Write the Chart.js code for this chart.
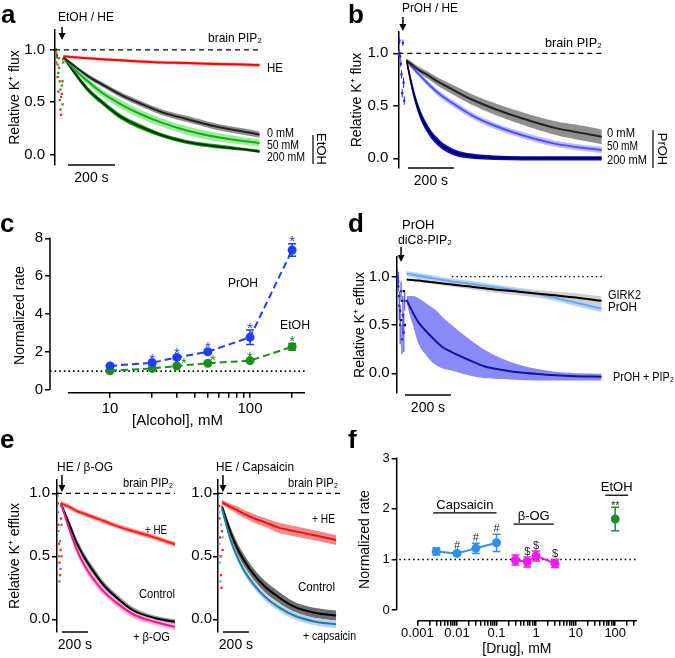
<!DOCTYPE html>
<html>
<head>
<meta charset="utf-8">
<script src="https://cdn.jsdelivr.net/npm/chart.js@4.4.1/dist/chart.umd.min.js"></script>
<style>
  html, body { margin: 0; padding: 0; background: #fff; }
  #fig { position: relative; width: 675px; height: 658px; overflow: hidden; background: #fff; }
  #fig canvas { position: absolute; }
</style>
</head>
<body>
<div id="fig">
  <canvas id="chartA" style="left:0;top:0" width="335" height="200"></canvas>
  <canvas id="chartB" style="left:335px;top:0" width="340" height="200"></canvas>
  <canvas id="chartC" style="left:0;top:200px" width="335" height="230"></canvas>
  <canvas id="chartD" style="left:335px;top:200px" width="340" height="230"></canvas>
  <canvas id="chartE1" style="left:0;top:430px" width="180" height="228"></canvas>
  <canvas id="chartE2" style="left:180px;top:430px" width="180" height="228"></canvas>
  <canvas id="chartF" style="left:335px;top:430px" width="340" height="228"></canvas>
</div>
<script>
// ---------- data ----------
const FLUX_TICKS = [0, 0.5, 1.0];

// panel a: EtOH / HE, brain PIP2 (time in s, relative flux)
const A_T = [36, 80, 140, 200, 280, 360, 460, 560, 680, 800, 870];
const A_HE = [0.94, 0.93, 0.92, 0.91, 0.90, 0.89, 0.88, 0.875, 0.865, 0.86, 0.855];
const A_HE_SEM = [0.012, 0.013, 0.014, 0.015, 0.015, 0.016, 0.016, 0.017, 0.017, 0.018, 0.018];
const A_0MM = [0.93, 0.85, 0.75, 0.67, 0.57, 0.49, 0.40, 0.34, 0.27, 0.22, 0.19];
const A_0MM_SEM = [0.01, 0.015, 0.02, 0.022, 0.025, 0.027, 0.028, 0.03, 0.03, 0.03, 0.03];
const A_50MM = [0.93, 0.82, 0.70, 0.59, 0.48, 0.39, 0.30, 0.23, 0.17, 0.13, 0.11];
const A_50MM_SEM = [0.01, 0.02, 0.03, 0.035, 0.04, 0.04, 0.04, 0.04, 0.04, 0.035, 0.035];
const A_200MM = [0.93, 0.79, 0.62, 0.50, 0.36, 0.27, 0.18, 0.12, 0.08, 0.05, 0.03];
const A_200MM_SEM = [0.01, 0.02, 0.025, 0.025, 0.025, 0.025, 0.02, 0.02, 0.02, 0.015, 0.015];
const A_PRE_T = [2, 5, 8, 11, 14, 17, 20, 23, 26, 29, 32, 35];
const A_PRE_GREEN = [1.01, 0.97, 0.93, 0.86, 0.78, 0.92, 0.70, 0.62, 0.55, 0.66, 0.48, 0.88];
const A_PRE_RED = [0.99, 0.88, 0.95, 0.74, 0.60, 0.83, 0.52, 0.43, 0.38, 0.58, 0.70, 0.91];
const A_DRUG_T = 30;

// panel b: PrOH / HE
const B_T = [36, 60, 90, 130, 180, 240, 320, 420, 540, 680, 800, 885];
const B_0MM = [0.93, 0.89, 0.84, 0.79, 0.72, 0.65, 0.56, 0.47, 0.38, 0.29, 0.24, 0.205];
const B_0MM_SEM = [0.02, 0.025, 0.03, 0.035, 0.04, 0.045, 0.05, 0.055, 0.06, 0.065, 0.07, 0.07];
const B_50MM = [0.93, 0.87, 0.80, 0.71, 0.61, 0.52, 0.41, 0.31, 0.22, 0.14, 0.10, 0.08];
const B_50MM_SEM = [0.02, 0.02, 0.025, 0.025, 0.03, 0.03, 0.03, 0.03, 0.03, 0.03, 0.03, 0.03];
const B_200MM = [0.93, 0.68, 0.45, 0.27, 0.14, 0.06, 0.02, 0.006, 0.0, 0.0, 0.0, 0.0];
const B_200MM_SEM = [0.04, 0.045, 0.045, 0.04, 0.035, 0.03, 0.025, 0.022, 0.02, 0.02, 0.02, 0.02];
const B_PRE_T = [2, 5, 8, 11, 14, 17, 20, 23, 26];
const B_PRE = [1.0, 1.12, 0.97, 0.90, 0.80, 0.62, 1.10, 0.72, 0.55];
const B_PRE_ERR = [0.03, 0.03, 0.04, 0.03, 0.04, 0.04, 0.03, 0.05, 0.04];
const B_DRUG_T = 20;

// panel c: rate vs alcohol concentration (mM)
const ALC_CONC = [10, 20, 30, 50, 100, 200];
const PROH_RATE = [1.27, 1.44, 1.72, 2.02, 2.78, 7.38];
const PROH_ERR = [0.05, 0.08, 0.08, 0.10, 0.38, 0.33];
const PROH_MARK = ['', '*', '*', '*', '*', '*'];
const ETOH_RATE = [1.02, 1.14, 1.27, 1.41, 1.55, 2.28];
const ETOH_ERR = [0.04, 0.05, 0.05, 0.06, 0.08, 0.18];
const ETOH_MARK = ['', '', '*', '*', '*', '*'];
const C_Y_TICKS = [0, 2, 4, 6, 8];
const C_X_TICKS = [10, 20, 30, 40, 50, 60, 70, 80, 90, 100, 200];
const C_X_LABELS = [10, 100];

// panel d: PrOH with diC8-PIP2
const D_T = [43, 70, 94, 130, 167, 200, 239, 312, 384, 460, 529, 674, 780, 891];
const D_GIRK2 = [0.97, 0.965, 0.96, 0.95, 0.94, 0.93, 0.92, 0.90, 0.88, 0.86, 0.845, 0.81, 0.785, 0.75];
const D_GIRK2_SEM = [0.01, 0.012, 0.014, 0.016, 0.018, 0.02, 0.022, 0.026, 0.03, 0.033, 0.036, 0.04, 0.043, 0.045];
const D_PROH = [1.03, 1.02, 1.01, 0.995, 0.98, 0.965, 0.95, 0.93, 0.905, 0.88, 0.855, 0.79, 0.73, 0.67];
const D_PROH_SEM = [0.03, 0.03, 0.03, 0.03, 0.03, 0.03, 0.03, 0.03, 0.03, 0.03, 0.03, 0.035, 0.035, 0.035];
const D_PIP2 = [0.76, 0.63, 0.53, 0.43, 0.34, 0.27, 0.22, 0.14, 0.07, 0.035, 0.01, -0.017, -0.03, -0.035];
const D_PIP2_HI = [0.80, 0.80, 0.78, 0.72, 0.66, 0.58, 0.50, 0.36, 0.24, 0.15, 0.09, 0.02, 0.0, -0.005];
const D_PIP2_LO = [0.72, 0.50, 0.31, 0.18, 0.09, 0.05, 0.03, -0.02, -0.05, -0.06, -0.07, -0.075, -0.075, -0.075];
const D_PRE_T = [3, 7, 11, 15, 19, 23, 27, 31, 35];
const D_PRE_BLUE = [1.0, 0.95, 0.70, 0.50, 0.85, 0.35, 0.60, 0.42, 0.75];
const D_PRE_BLUE_ERR = [0.08, 0.10, 0.15, 0.20, 0.10, 0.15, 0.20, 0.20, 0.10];
const D_PRE_BLACK = [0.98, 0.90, 0.80, 0.65, 0.55, 0.75, 0.60, 0.85, 0.50];
const D_DRUG_T = 19;

// panel e: HE with beta-OG (left) and capsaicin (right)
const E_T = [30, 100, 150, 205, 280, 360, 460, 585, 750, 908];
const E1_HE = [0.92, 0.89, 0.86, 0.84, 0.81, 0.78, 0.74, 0.70, 0.65, 0.595];
const E1_HE_SEM = [0.02, 0.02, 0.02, 0.02, 0.02, 0.02, 0.02, 0.02, 0.02, 0.02];
const E1_CTRL = [0.92, 0.74, 0.61, 0.50, 0.38, 0.27, 0.17, 0.07, 0.01, -0.02];
const E1_CTRL_SEM = [0.01, 0.03, 0.035, 0.035, 0.035, 0.03, 0.03, 0.025, 0.02, 0.02];
const E1_BOG = [0.92, 0.70, 0.56, 0.44, 0.32, 0.22, 0.13, 0.04, -0.02, -0.06];
const E1_BOG_SEM = [0.01, 0.03, 0.035, 0.035, 0.035, 0.03, 0.03, 0.03, 0.025, 0.025];
const E2_HE = [0.93, 0.89, 0.865, 0.835, 0.80, 0.77, 0.73, 0.70, 0.665, 0.63];
const E2_HE_SEM = [0.02, 0.025, 0.03, 0.03, 0.035, 0.035, 0.04, 0.04, 0.04, 0.04];
const E2_CTRL = [0.90, 0.68, 0.56, 0.46, 0.35, 0.26, 0.18, 0.10, 0.05, 0.03];
const E2_CTRL_SEM = [0.02, 0.04, 0.045, 0.045, 0.045, 0.045, 0.045, 0.04, 0.04, 0.04];
const E2_CAPS = [0.88, 0.62, 0.49, 0.38, 0.27, 0.18, 0.10, 0.03, -0.02, -0.04];
const E2_CAPS_SEM = [0.02, 0.03, 0.03, 0.03, 0.03, 0.03, 0.03, 0.03, 0.03, 0.03];
const E_PRE_T = [3, 7, 11, 15, 19, 23, 27, 31, 35];
const E1_PRE_RED = [1.0, 0.92, 0.75, 0.60, 0.45, 0.35, 0.55, 0.80, 0.50];
const E1_PRE_GRAY = [0.98, 0.85, 0.70, 0.50, 0.30, 0.62, 0.40, 0.90, 0.75];
const E2_PRE_RED = [1.0, 0.90, 0.80, 0.65, 0.50, 0.35, 0.25, 0.70, 0.55];
const E2_PRE_BLUE = [0.97, 0.85, 0.60, 0.45, 0.30, 0.75, 0.50, 0.90, 0.65];
const E_DRUG_T = 38;

// panel f: rate vs drug concentration (mM)
const CAPS_CONC = [0.003, 0.01, 0.03, 0.1];
const CAPS_RATE = [1.16, 1.12, 1.22, 1.33];
const CAPS_ERR = [0.07, 0.04, 0.10, 0.17];
const CAPS_MARK = ['', '#', '#', '#'];
const BOG_CONC = [0.3, 0.6, 1, 3];
const BOG_RATE = [0.99, 0.95, 1.07, 0.92];
const BOG_ERR = [0.10, 0.10, 0.10, 0.08];
const BOG_MARK = ['', '$', '$', '$'];
const ETOH_F_CONC = [100];
const ETOH_F_RATE = [1.80];
const ETOH_F_ERR = [0.23];
const ETOH_F_MARK = ['**'];
const F_Y_TICKS = [0, 1, 2, 3];
const F_X_MAJOR = [0.001, 0.01, 0.1, 1, 10, 100];
const F_X_LABELS = ['0.001', '0.01', '0.1', '1', '10', '100'];

// ---------- helpers ----------
const FONT = "'Liberation Sans', Arial, Helvetica, sans-serif";
function fnt(size, bold) { return (bold ? 'bold ' : '') + size + 'px ' + FONT; }
function pts(xs, ys) { return xs.map((x, i) => ({ x: x, y: ys[i] })); }

function text(ctx, s, x, y, o) {
    o = o || {};
    ctx.save();
    ctx.font = o.font || fnt(13);
    ctx.fillStyle = o.color || '#000';
    ctx.textAlign = o.align || 'left';
    ctx.textBaseline = o.base || 'middle';
    ctx.translate(x, y);
    if (o.rot) ctx.rotate(o.rot);
    if (o.w) ctx.fillText(s, 0, 0, o.w);
    else ctx.fillText(s, 0, 0);
    ctx.restore();
}
function seg(ctx, x1, y1, x2, y2, w, color) {
    ctx.save();
    ctx.strokeStyle = color || '#000';
    ctx.lineWidth = w || 1.5;
    ctx.beginPath(); ctx.moveTo(x1, y1); ctx.lineTo(x2, y2); ctx.stroke();
    ctx.restore();
}
function arrow(ctx, x, y1, y2) {
    seg(ctx, x, y1, x, y2 - 5, 1.5);
    ctx.save();
    ctx.fillStyle = '#000';
    ctx.beginPath(); ctx.moveTo(x - 3.5, y2 - 7); ctx.lineTo(x + 3.5, y2 - 7); ctx.lineTo(x, y2); ctx.closePath(); ctx.fill();
    ctx.restore();
}
function letter(ctx, s, x, y) { text(ctx, s, x, y, { font: fnt(26, true), base: 'alphabetic' }); }
function scaleBar(ctx, xs, t0, len, yPix) {
    const x0 = xs.getPixelForValue(t0), x1 = xs.getPixelForValue(t0 + len);
    seg(ctx, x0, yPix, x1, yPix, 1.5);
    text(ctx, len + ' s', (x0 + x1) / 2, yPix + 13, { font: fnt(14), align: 'center' });
}

const CLEAR = 'rgba(0,0,0,0)';
function band(t, lo, hi, color, order) {
    return [
        { data: pts(t, lo), borderColor: CLEAR, borderWidth: 0, fill: false, order: order },
        { data: pts(t, hi), borderColor: CLEAR, borderWidth: 0, fill: '-1', backgroundColor: color, order: order }
    ];
}
function semBand(t, mean, sem, color, order) {
    return band(t, mean.map((m, i) => m - sem[i]), mean.map((m, i) => m + sem[i]), color, order);
}
function trace(t, mean, color, width, order) {
    return { data: pts(t, mean), borderColor: color, borderWidth: width, fill: false, order: order };
}
function dots(t, v, color, errs) {
    return {
        data: pts(t, v), showLine: false, pointRadius: 1.6, pointStyle: 'rect',
        pointBackgroundColor: color, pointBorderWidth: 0, borderColor: color,
        errs: errs, errWidth: 1, order: 2
    };
}
function refLine(x0, x1, dash) {
    return { data: [{ x: x0, y: 1 }, { x: x1, y: 1 }], borderColor: '#000', borderWidth: 1.3, borderDash: dash, fill: false, order: 0 };
}

// error bars for datasets carrying an errs array
const errorBars = {
    id: 'errorBars',
    afterDatasetsDraw(chart) {
        const ctx = chart.ctx, y = chart.scales.y;
        chart.data.datasets.forEach((ds, i) => {
            if (!ds.errs) return;
            const meta = chart.getDatasetMeta(i);
            ctx.save();
            ctx.strokeStyle = ds.borderColor;
            ctx.lineWidth = ds.errWidth || 1.5;
            meta.data.forEach((pt, j) => {
                const v = ds.data[j].y, e = ds.errs[j];
                const top = y.getPixelForValue(v + e), bot = y.getPixelForValue(v - e);
                const cap = ds.capW || 0;
                ctx.beginPath();
                ctx.moveTo(pt.x, top); ctx.lineTo(pt.x, bot);
                if (cap) {
                    ctx.moveTo(pt.x - cap, top); ctx.lineTo(pt.x + cap, top);
                    ctx.moveTo(pt.x - cap, bot); ctx.lineTo(pt.x + cap, bot);
                }
                ctx.stroke();
            });
            ctx.restore();
        });
    }
};
Chart.register(errorBars);

function fluxChart(id, datasets, view, deco) {
    return new Chart(document.getElementById(id), {
        type: 'line',
        data: { datasets: datasets },
        options: {
            responsive: false, animation: false, devicePixelRatio: 1,
            layout: { padding: view.pad, autoPadding: false },
            plugins: { legend: { display: false }, tooltip: { enabled: false } },
            elements: { line: { cubicInterpolationMode: 'monotone' }, point: { radius: 0 } },
            scales: {
                x: { type: 'linear', display: false, min: 0, max: view.xmax },
                y: {
                    min: view.ymin, max: view.ymax,
                    afterFit: s => { s.width = view.yw; },
                    afterBuildTicks: s => { s.ticks = FLUX_TICKS.map(v => ({ value: v })); },
                    border: { display: true, color: '#000', width: 1.5 },
                    grid: { drawOnChartArea: false, tickLength: 5, color: '#000', lineWidth: 1.5 },
                    ticks: { padding: view.tickPad, color: '#000', font: { family: FONT, size: 15 }, callback: v => v.toFixed(1) },
                    title: { display: !!view.title, text: view.title, color: '#000', font: { family: FONT, size: 14 } }
                }
            }
        },
        plugins: [deco]
    });
}

// ---------- panel a ----------
fluxChart('chartA', [
    refLine(0, 880, [5, 4]),
    dots(A_PRE_T, A_PRE_RED, '#ff2020'),
    dots(A_PRE_T, A_PRE_GREEN, '#10a010'),
    trace(A_T, A_HE, '#ff0000', 2, 3),
    trace(A_T, A_0MM, '#222222', 2, 4),
    trace(A_T, A_50MM, '#10b010', 2, 4),
    trace(A_T, A_200MM, '#0a2a0a', 2, 4),
    ...semBand(A_T, A_HE, A_HE_SEM, '#ffb0b0', 10),
    ...semBand(A_T, A_0MM, A_0MM_SEM, '#8e8e8e', 13),
    ...semBand(A_T, A_50MM, A_50MM_SEM, '#9ceb9c', 12),
    ...semBand(A_T, A_200MM, A_200MM_SEM, '#14a814', 11)
], { pad: { left: 3, top: 30, right: 70, bottom: 35 }, yw: 52, tickPad: 5, ymin: -0.10, ymax: 1.19, xmax: 893, title: 'Relative K\u207A flux' }, {
    id: 'decoA',
    afterDraw(chart) {
        const { ctx, chartArea: ca, scales: { x, y } } = chart;
        letter(ctx, 'a', 1, 23);
        text(ctx, 'EtOH / HE', 58, 17, { w: 56 });
        arrow(ctx, x.getPixelForValue(A_DRUG_T), 27, 40);
        text(ctx, 'brain PIP\u2082', 262, 38, { align: 'right', w: 54 });
        text(ctx, 'HE', 267, 68, { w: 16 });
        text(ctx, '0 mM', 267, 133, { w: 27 });
        text(ctx, '50 mM', 267, 145, { w: 32 });
        text(ctx, '200 mM', 267, 157, { w: 38 });
        seg(ctx, 313, 135, 313, 164, 1.2);
        text(ctx, 'EtOH', 321, 149, { align: 'center', rot: Math.PI / 2 });
        scaleBar(ctx, x, 55, 200, ca.bottom);
    }
});

// ---------- panel b ----------
fluxChart('chartB', [
    refLine(0, 890, [5, 4]),
    dots(B_PRE_T, B_PRE, '#2020ff', B_PRE_ERR),
    trace(B_T, B_0MM, '#222222', 2, 4),
    trace(B_T, B_50MM, '#5050ff', 2, 4),
    trace(B_T, B_200MM, '#000000', 1.5, 3),
    ...semBand(B_T, B_0MM, B_0MM_SEM, '#8f8f8f', 13),
    ...semBand(B_T, B_50MM, B_50MM_SEM, '#bcbcff', 12),
    ...semBand(B_T, B_200MM, B_200MM_SEM, '#0808e0', 11)
], { pad: { left: 10, top: 32, right: 70, bottom: 32 }, yw: 53.3, tickPad: 5, ymin: -0.092, ymax: 1.203, xmax: 899, title: 'Relative K\u207A flux' }, {
    id: 'decoB',
    afterDraw(chart) {
        const { ctx, chartArea: ca, scales: { x, y } } = chart;
        letter(ctx, 'b', 13, 23);
        text(ctx, 'PrOH / HE', 67, 8, { w: 56 });
        arrow(ctx, x.getPixelForValue(B_DRUG_T), 17, 31);
        text(ctx, 'brain PIP\u2082', 267, 43, { align: 'right', w: 57 });
        text(ctx, '0 mM', 272, 133, { w: 28 });
        text(ctx, '50 mM', 272, 146, { w: 31 });
        text(ctx, '200 mM', 272, 160, { w: 40 });
        seg(ctx, 318, 130, 318, 168, 1.2);
        text(ctx, 'PrOH', 327, 149, { align: 'center', rot: Math.PI / 2 });
        scaleBar(ctx, x, 42, 200, ca.bottom);
    }
});

// ---------- panel c ----------
const C_BLUE = '#1f3cff', C_GREEN = '#1e8c1e';
new Chart(document.getElementById('chartC'), {
    type: 'line',
    data: {
        datasets: [
            { data: [{ x: 3.727, y: 1 }, { x: 247.1, y: 1 }], borderColor: '#000', borderWidth: 1.6, borderDash: [1.6, 3], pointRadius: 0, order: 5 },
            { data: pts(ALC_CONC, PROH_RATE), errs: PROH_ERR, capW: 4, borderColor: C_BLUE, borderWidth: 2, borderDash: [7, 4], pointRadius: 4.5, pointBackgroundColor: C_BLUE, pointBorderWidth: 0, order: 1 },
            { data: pts(ALC_CONC, ETOH_RATE), errs: ETOH_ERR, capW: 4, borderColor: C_GREEN, borderWidth: 2, borderDash: [7, 4], pointRadius: 4.5, pointBackgroundColor: C_GREEN, pointBorderWidth: 0, order: 2 }
        ]
    },
    options: {
        responsive: false, animation: false, devicePixelRatio: 1,
        layout: { padding: { left: 7.6, top: 38.3, right: 30, bottom: 0 }, autoPadding: false },
        plugins: { legend: { display: false }, tooltip: { enabled: false } },
        scales: {
            x: {
                type: 'logarithmic', min: 3.727, max: 247.1,
                afterFit: s => { s.height = 37.3; },
                afterBuildTicks: s => { s.ticks = C_X_TICKS.map(v => ({ value: v })); },
                border: { display: false },
                grid: { drawOnChartArea: false, tickLength: 5, color: '#000', lineWidth: 1.5 },
                ticks: { autoSkip: false, maxRotation: 0, padding: 2, color: '#000', font: { family: FONT, size: 15 }, callback: v => (C_X_LABELS.includes(v) ? String(v) : '') },
                title: { display: true, text: '[Alcohol], mM', padding: 0, color: '#000', font: { family: FONT, size: 15 } }
            },
            y: {
                min: -0.14, max: 8,
                afterFit: s => { s.width = 42.4; },
                afterBuildTicks: s => { s.ticks = C_Y_TICKS.map(v => ({ value: v })); },
                border: { display: false },
                grid: { drawOnChartArea: false, tickLength: 5, color: '#000', lineWidth: 1.5 },
                ticks: { padding: 2, color: '#000', font: { family: FONT, size: 15 } },
                title: { display: true, text: 'Normalized rate', color: '#000', font: { family: FONT, size: 14 } }
            }
        }
    },
    plugins: [{
        id: 'decoC',
        afterDraw(chart) {
            const { ctx, chartArea: ca, scales: { x, y } } = chart;
            letter(ctx, 'c', 0, 32);
            seg(ctx, ca.left, y.getPixelForValue(8) - 0.75, ca.left, y.getPixelForValue(0), 1.5);
            seg(ctx, x.getPixelForValue(5), ca.bottom, ca.right, ca.bottom, 1.5);
            const nudge = [0, 0, 7, 5, 0, 0];
            ALC_CONC.forEach((c, i) => {
                if (PROH_MARK[i]) text(ctx, PROH_MARK[i], x.getPixelForValue(c), y.getPixelForValue(PROH_RATE[i] + PROH_ERR[i]) + 2.5, { font: fnt(15), align: 'center', base: 'alphabetic', color: C_BLUE });
                if (ETOH_MARK[i]) text(ctx, ETOH_MARK[i], x.getPixelForValue(c) + nudge[i], y.getPixelForValue(ETOH_RATE[i] + ETOH_ERR[i]) + 2.5, { font: fnt(15), align: 'center', base: 'alphabetic', color: C_GREEN });
            });
            text(ctx, 'PrOH', 243, 83, { align: 'center', w: 30 });
            text(ctx, 'EtOH', 295, 125, { align: 'center', w: 30 });
        }
    }]
});

// ---------- panel d ----------
fluxChart('chartD', [
    refLine(240, 897, [1.5, 3]),
    dots(D_PRE_T, D_PRE_BLUE, '#3030e0', D_PRE_BLUE_ERR),
    dots(D_PRE_T, D_PRE_BLACK, '#000000'),
    trace(D_T, D_GIRK2, '#000000', 2, 3),
    trace(D_T, D_PROH, '#6aa8f0', 2, 4),
    trace(D_T, D_PIP2, '#14149c', 2, 4),
    ...semBand(D_T, D_GIRK2, D_GIRK2_SEM, '#cfcfcf', 12),
    ...semBand(D_T, D_PROH, D_PROH_SEM, '#b4d4f8', 13),
    ...band(D_T, D_PIP2_LO, D_PIP2_HI, '#8a8af6', 11)
], { pad: { left: 12.6, top: 57, right: 70, bottom: 37 }, yw: 49.1, tickPad: 2, ymin: -0.204, ymax: 1.204, xmax: 906, title: 'Relative K\u207A efflux' }, {
    id: 'decoD',
    afterDraw(chart) {
        const { ctx, chartArea: ca, scales: { x, y } } = chart;
        letter(ctx, 'd', 13, 32);
        text(ctx, 'PrOH', 67, 25);
        text(ctx, 'diC8-PIP\u2082', 63, 40, { w: 54 });
        arrow(ctx, x.getPixelForValue(D_DRUG_T), 47, 62);
        text(ctx, 'GIRK2', 273, 95, { w: 33 });
        text(ctx, 'PrOH', 273, 107, { w: 29 });
        text(ctx, 'PrOH + PIP\u2082', 278, 177, { w: 61 });
        scaleBar(ctx, x, 36, 200, ca.bottom + 2);
    }
});

// ---------- panel e ----------
fluxChart('chartE1', [
    refLine(0, 908, [5, 4]),
    dots(E_PRE_T, E1_PRE_GRAY, '#777777'),
    dots(E_PRE_T, E1_PRE_RED, '#ff2020'),
    trace(E_T, E1_HE, '#ff1a1a', 2, 3),
    trace(E_T, E1_CTRL, '#000000', 2, 4),
    trace(E_T, E1_BOG, '#ee1a8c', 2, 3),
    ...semBand(E_T, E1_HE, E1_HE_SEM, '#ffa0a0', 11),
    ...semBand(E_T, E1_CTRL, E1_CTRL_SEM, '#9a9a9a', 13),
    ...semBand(E_T, E1_BOG, E1_BOG_SEM, '#f6b2d8', 12)
], { pad: { left: 2.6, top: 50, right: 5, bottom: 26 }, yw: 54.4, tickPad: 2, ymin: -0.101, ymax: 1.106, xmax: 908, title: 'Relative K\u207A efflux' }, {
    id: 'decoE1',
    afterDraw(chart) {
        const { ctx, chartArea: ca, scales: { x, y } } = chart;
        letter(ctx, 'e', 0, 18);
        text(ctx, 'HE / \u03B2-OG', 57, 37, { w: 56 });
        arrow(ctx, x.getPixelForValue(E_DRUG_T), 45, 62);
        text(ctx, 'brain PIP\u2082', 173, 53, { align: 'right', w: 50 });
        text(ctx, '+ HE', 167, 100, { align: 'right', w: 22 });
        text(ctx, 'Control', 175, 164, { align: 'right', w: 36 });
        text(ctx, '+ \u03B2-OG', 170, 207, { align: 'right', w: 37 });
        scaleBar(ctx, x, 38, 200, ca.bottom);
    }
});

fluxChart('chartE2', [
    refLine(0, 938, [5, 4]),
    dots(E_PRE_T, E2_PRE_BLUE, '#7aa8e0'),
    dots(E_PRE_T, E2_PRE_RED, '#ff2020'),
    trace(E_T, E2_HE, '#ee1111', 2, 3),
    trace(E_T, E2_CTRL, '#000000', 2, 4),
    trace(E_T, E2_CAPS, '#1f7f9c', 2, 3),
    ...semBand(E_T, E2_HE, E2_HE_SEM, '#f08a8a', 11),
    ...semBand(E_T, E2_CTRL, E2_CTRL_SEM, '#6e6e6e', 13),
    ...semBand(E_T, E2_CAPS, E2_CAPS_SEM, '#b8d2f2', 12)
], { pad: { left: 0, top: 50, right: 20, bottom: 26 }, yw: 38, tickPad: 1, ymin: -0.101, ymax: 1.106, xmax: 938, title: '' }, {
    id: 'decoE2',
    afterDraw(chart) {
        const { ctx, chartArea: ca, scales: { x, y } } = chart;
        text(ctx, 'HE / Capsaicin', 36, 37, { w: 78 });
        arrow(ctx, x.getPixelForValue(E_DRUG_T), 45, 62);
        text(ctx, 'brain PIP\u2082', 158, 53, { align: 'right', w: 50 });
        text(ctx, '+ HE', 155, 89, { align: 'right', w: 23 });
        text(ctx, 'Control', 155, 157, { align: 'right', w: 37 });
        text(ctx, '+ capsaicin', 123, 206, { w: 53 });
        scaleBar(ctx, x, 38, 200, ca.bottom);
    }
});

// ---------- panel f ----------
const F_BLUE = '#2f8ff0', F_MAGENTA = '#f01af0', F_GREEN = '#218c3c';
const F_GROUPS = [
    { label: 'Capsaicin', from: 0.0025, to: 0.1, y: 1.92 },
    { label: '\u03B2-OG', from: 0.27, to: 2.8, y: 1.70 },
    { label: 'EtOH', from: 56, to: 211, y: 2.27 }
];
const F_X_TICKS = [];
F_X_MAJOR.forEach(d => { for (let k = 1; k <= 9; k++) if (d * k <= 300) F_X_TICKS.push(d * k); });

new Chart(document.getElementById('chartF'), {
    type: 'line',
    data: {
        datasets: [
            { data: [{ x: 3.487e-4, y: 1 }, { x: 340, y: 1 }], borderColor: '#000', borderWidth: 1.6, borderDash: [1.6, 3], pointRadius: 0, order: 5 },
            { data: pts(CAPS_CONC, CAPS_RATE), errs: CAPS_ERR, capW: 4, borderColor: F_BLUE, borderWidth: 2, pointRadius: 4.5, pointBackgroundColor: F_BLUE, pointBorderWidth: 0, order: 1 },
            { data: pts(BOG_CONC, BOG_RATE), errs: BOG_ERR, capW: 4, borderColor: F_MAGENTA, borderWidth: 2, pointRadius: 4.5, pointBackgroundColor: F_MAGENTA, pointBorderWidth: 0, order: 1 },
            { data: pts(ETOH_F_CONC, ETOH_F_RATE), errs: ETOH_F_ERR, capW: 4, borderColor: F_GREEN, borderWidth: 2, showLine: false, pointRadius: 4.5, pointBackgroundColor: F_GREEN, pointBorderWidth: 0, order: 1 }
        ]
    },
    options: {
        responsive: false, animation: false, devicePixelRatio: 1,
        layout: { padding: { left: 17.6, top: 28.3, right: 38, bottom: 0 }, autoPadding: false },
        plugins: { legend: { display: false }, tooltip: { enabled: false } },
        scales: {
            x: {
                type: 'logarithmic', min: 3.487e-4, max: 354.8,
                afterFit: s => { s.height = 37.3; },
                afterBuildTicks: s => { s.ticks = F_X_TICKS.map(v => ({ value: v })); },
                border: { display: false },
                grid: { drawOnChartArea: false, tickLength: 5, color: '#000', lineWidth: 1.5 },
                ticks: { autoSkip: false, maxRotation: 0, padding: 0, color: '#000', font: { family: FONT, size: 13 }, callback: v => { const i = F_X_MAJOR.indexOf(v); return i < 0 ? '' : F_X_LABELS[i]; } },
                title: { display: true, text: '[Drug], mM', padding: 0, color: '#000', font: { family: FONT, size: 14 } }
            },
            y: {
                min: -0.21, max: 3,
                afterFit: s => { s.width = 44.1; },
                afterBuildTicks: s => { s.ticks = F_Y_TICKS.map(v => ({ value: v })); },
                border: { display: false },
                grid: { drawOnChartArea: false, tickLength: 5, color: '#000', lineWidth: 1.5 },
                ticks: { padding: 2, color: '#000', font: { family: FONT, size: 13 } },
                title: { display: true, text: 'Normalized rate', color: '#000', font: { family: FONT, size: 14 } }
            }
        }
    },
    plugins: [{
        id: 'decoF',
        afterDraw(chart) {
            const { ctx, chartArea: ca, scales: { x, y } } = chart;
            letter(ctx, 'f', 13, 18);
            seg(ctx, ca.left, y.getPixelForValue(3) - 0.75, ca.left, y.getPixelForValue(0), 1.5);
            seg(ctx, x.getPixelForValue(0.001), ca.bottom, ca.right, ca.bottom, 1.5);
            const marks = [[CAPS_CONC, CAPS_RATE, CAPS_ERR, CAPS_MARK], [BOG_CONC, BOG_RATE, BOG_ERR, BOG_MARK], [ETOH_F_CONC, ETOH_F_RATE, ETOH_F_ERR, ETOH_F_MARK]];
            marks.forEach(([cs, rs, es, ms]) => cs.forEach((c, i) => {
                if (!ms[i]) return;
                const top = y.getPixelForValue(rs[i] + es[i]);
                text(ctx, ms[i], x.getPixelForValue(c), ms[i] === '**' ? top + 2 : top - 2, { font: fnt(11), align: 'center', base: 'alphabetic', color: '#222' });
            }));
            F_GROUPS.forEach(g => {
                const x0 = x.getPixelForValue(g.from), x1 = x.getPixelForValue(g.to), yy = y.getPixelForValue(g.y);
                seg(ctx, x0, yy, x1, yy, 1.3);
                text(ctx, g.label, (x0 + x1) / 2, yy - 8, { align: 'center' });
            });
        }
    }]
});
</script>
</body>
</html>
